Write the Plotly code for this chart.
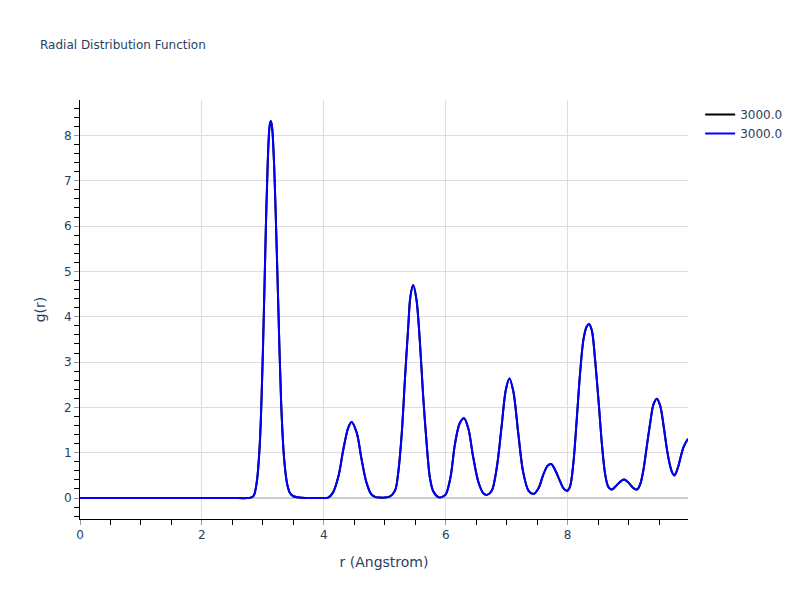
import plotly.graph_objects as go

r_vals = [0.0, 0.5, 1.0, 1.5, 2.0, 2.5, 2.75, 2.80, 2.85, 2.90, 2.95, 3.00, 3.05, 3.08, 3.11, 3.13, 3.15, 3.18, 3.21, 3.25, 3.30, 3.35, 3.40, 3.45, 3.50, 3.60, 3.70, 3.80, 3.90, 4.00, 4.07,
          4.15, 4.24, 4.32, 4.40, 4.455, 4.54, 4.62, 4.70, 4.78, 4.85, 4.92, 5.00, 5.08, 5.17, 5.22, 5.28, 5.33, 5.385, 5.42, 5.466, 5.52, 5.577, 5.63, 5.69, 5.74, 5.795, 5.88, 5.93,
          6.00, 6.08, 6.15, 6.23, 6.30, 6.37, 6.45, 6.535, 6.62, 6.68, 6.755, 6.84, 6.92, 6.985, 7.045, 7.11, 7.19, 7.27, 7.36, 7.44, 7.52, 7.60, 7.67, 7.73, 7.795, 7.88, 7.93, 7.99,
          8.04, 8.095, 8.15, 8.205, 8.26, 8.315, 8.353, 8.40, 8.45, 8.51, 8.565, 8.62, 8.67, 8.725, 8.81, 8.89, 8.93, 9.00, 9.08, 9.14, 9.19, 9.245, 9.30, 9.355, 9.41, 9.465, 9.52,
          9.575, 9.63, 9.68, 9.72, 9.75, 9.78, 9.82, 9.90, 9.975]
g_vals = [0.0, 0.0, 0.0, 0.0, 0.0, 0.0, 0.0, 0.01, 0.05, 0.35, 1.2, 3.2, 6.0, 7.4, 8.2, 8.32, 8.2, 7.5, 6.3, 4.4, 2.1, 0.85, 0.3, 0.1, 0.04, 0.01, 0.0, 0.0, 0.0, 0.0, 0.01,
          0.12, 0.48, 1.07, 1.55, 1.68, 1.44, 0.85, 0.34, 0.08, 0.02, 0.01, 0.01, 0.03, 0.17, 0.55, 1.45, 2.6, 3.78, 4.44, 4.70, 4.38, 3.43, 2.25, 1.15, 0.45, 0.15, 0.02, 0.02,
          0.08, 0.47, 1.18, 1.65, 1.76, 1.54, 0.91, 0.36, 0.10, 0.07, 0.16, 0.69, 1.62, 2.38, 2.64, 2.35, 1.43, 0.58, 0.16, 0.09, 0.21, 0.51, 0.71, 0.75, 0.62, 0.36, 0.22, 0.16,
          0.26, 0.78, 1.74, 2.76, 3.50, 3.79, 3.84, 3.68, 3.06, 2.10, 1.15, 0.49, 0.24, 0.19, 0.29, 0.39, 0.41, 0.34, 0.22, 0.19, 0.30, 0.63, 1.15, 1.66, 2.07, 2.19, 2.03,
          1.59, 1.07, 0.72, 0.55, 0.50, 0.56, 0.72, 1.12, 1.31]

series_names = ["3000.0", "3000.0"]
series_colors = ["black", "blue"]

fig = go.Figure()
for name, color in zip(series_names, series_colors):
    fig.add_trace(go.Scatter(x=r_vals, y=g_vals, mode="lines", name=name,
                             line=dict(color=color, width=2, shape="spline", smoothing=0.9)))

axis_common = dict(
    showline=True, linecolor="black", linewidth=1,
    showgrid=True, gridcolor="#dddddd",
    ticks="outside", ticklen=5, tickcolor="#999999",
    zeroline=True, zerolinecolor="#cccccc", zerolinewidth=2,
    automargin=False,
)

fig.update_layout(
    width=800, height=600,
    font=dict(family="Verdana, DejaVu Sans, sans-serif", color="#2a3f5f"),
    title=dict(text="Radial Distribution Function", font=dict(size=12),
               x=0.05, xanchor="left", y=1 - 45 / 600, yanchor="middle"),
    plot_bgcolor="white", paper_bgcolor="white",
    margin=dict(l=80, r=112, t=100, b=81),
    xaxis=dict(title=dict(text="r (Angstrom)"), dtick=2,
               minor=dict(dtick=0.5, ticks="outside", ticklen=5, tickcolor="black", showgrid=False),
               **axis_common),
    yaxis=dict(title=dict(text="g(r)"), dtick=1,
               minor=dict(dtick=0.2, ticks="outside", ticklen=5, tickcolor="black", showgrid=False),
               **axis_common),
)

html = fig.to_html(include_plotlyjs=True, full_html=True, config={"displayModeBar": False})
html = html.replace("<head>", "<head><style>html,body{margin:0;padding:0;}</style>", 1)
with open("out.html", "w", encoding="utf-8") as f:
    f.write(html)
